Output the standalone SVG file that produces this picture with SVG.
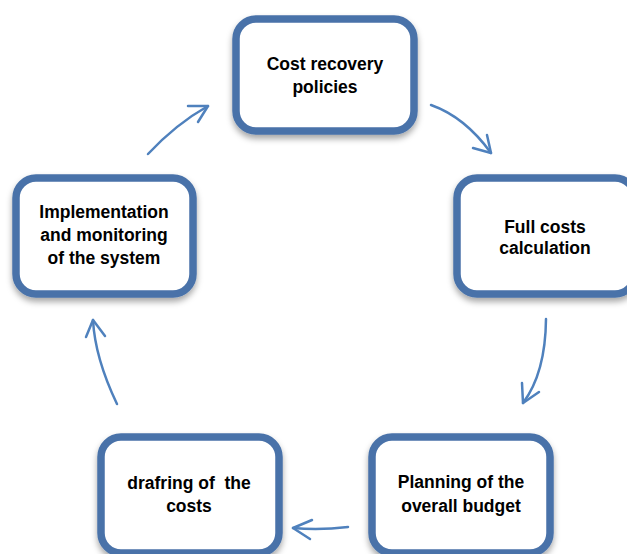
<svg xmlns="http://www.w3.org/2000/svg" width="627" height="554" viewBox="0 0 627 554">
<defs>
<filter id="sh" x="-20%" y="-20%" width="140%" height="150%">
<feDropShadow dx="0" dy="4" stdDeviation="3" flood-color="#000" flood-opacity="0.35"/>
</filter>
<style>
.box{fill:#fff;stroke:#4a72a9;stroke-width:7.5;filter:url(#sh)}
.t{font-family:"Liberation Sans",Arial,sans-serif;font-weight:bold;font-size:17.5px;fill:#000;text-anchor:middle}
.a{fill:none;stroke:#4f81bd;stroke-width:2.5;stroke-linecap:round;stroke-linejoin:round}
</style>
</defs>
<rect width="627" height="554" fill="#fff"/>
<g id="connectors">
<path class="a" d="M431,105 Q465,117 491,153"/>
<polyline class="a" points="473,148 491,153 487,135"/>
<path class="a" d="M546,319 Q545.5,373 523,403"/>
<polyline class="a" points="522,383 523,403 539,392"/>
<path class="a" d="M348,527 Q319.5,530.5 293,528"/>
<polyline class="a" points="312,520 293,528 310,539"/>
<path class="a" d="M117,404 Q95,358 93,320"/>
<polyline class="a" points="86,337 93,320 105,336"/>
<path class="a" d="M148,154 Q176,124 208,106"/>
<polyline class="a" points="188,106 208,106 198,122"/>
</g>
<g id="n1">
<rect class="box" x="236" y="19" width="178" height="112" rx="20"/>
<text class="t" x="325" y="70">Cost recovery</text>
<text class="t" x="325" y="93">policies</text>
</g>
<g id="n2">
<rect class="box" x="457" y="178" width="178" height="116" rx="20"/>
<text class="t" x="545" y="233">Full costs</text>
<text class="t" x="545" y="254">calculation</text>
</g>
<g id="n3">
<rect class="box" x="372" y="437" width="178" height="116" rx="20"/>
<text class="t" x="461" y="488">Planning of the</text>
<text class="t" x="461" y="512">overall budget</text>
</g>
<g id="n4">
<rect class="box" x="101" y="437" width="178" height="116" rx="20"/>
<text class="t" x="189" y="489" xml:space="preserve">drafring of  the</text>
<text class="t" x="189" y="512">costs</text>
</g>
<g id="n5">
<rect class="box" x="16" y="178" width="177" height="116" rx="20"/>
<text class="t" x="104" y="218">Implementation</text>
<text class="t" x="104" y="241">and monitoring</text>
<text class="t" x="104" y="264">of the system</text>
</g>
</svg>
